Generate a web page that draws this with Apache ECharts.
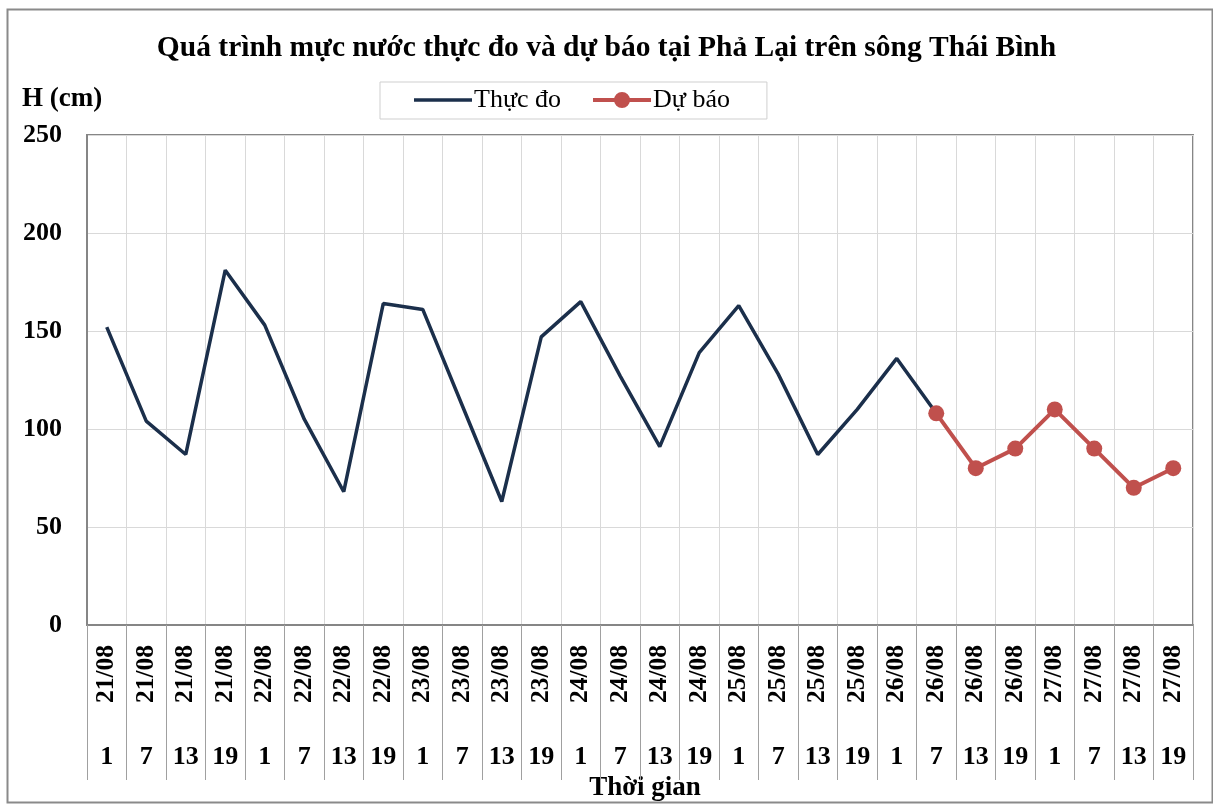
<!DOCTYPE html>
<html>
<head>
<meta charset="utf-8">
<script src="https://cdn.jsdelivr.net/npm/echarts@6/dist/echarts.min.js"></script>
<style>
html,body{margin:0;padding:0;background:#fff;}
#chart{width:1213px;height:804px;}
</style>
</head>
<body>
<div id="chart"></div>
<script>
var dates = ['21/08','21/08','21/08','21/08','22/08','22/08','22/08','22/08','23/08','23/08','23/08','23/08','24/08','24/08','24/08','24/08','25/08','25/08','25/08','25/08','26/08','26/08','26/08','26/08','27/08','27/08','27/08','27/08'];
var hours = ['1','7','13','19','1','7','13','19','1','7','13','19','1','7','13','19','1','7','13','19','1','7','13','19','1','7','13','19'];
var observed = [152,104,87,181,153,105,68,164,161,112,63,147,165,127,91,139,163,128,87,110,136,108,null,null,null,null,null,null];
var forecast = [null,null,null,null,null,null,null,null,null,null,null,null,null,null,null,null,null,null,null,null,null,108,80,90,110,90,70,80];
var yMin = 0, yMax = 250, yInterval = 50;

var font = 'Liberation Serif';
var navy = '#1b2f4b', red = '#c0504d';
var chart = echarts.init(document.getElementById('chart'));
chart.setOption({
  animation:false,
  backgroundColor:'#fff',
  title:{
    text:'Quá trình mực nước thực đo và dự báo tại Phả Lại trên sông Thái Bình',
    left:'center', top:28,
    textStyle:{fontFamily:font, fontWeight:'bold', fontSize:29.5, color:'#000'}
  },
  legend:{
    left:380, top:82,
    padding:[5,37,6,34], itemGap:32,
    borderColor:'#cfcfcf', borderWidth:1,
    itemWidth:58, itemHeight:16, symbolKeepAspect:true,
    textStyle:{fontFamily:font, fontSize:26, color:'#000', padding:[0,0,0,-3]},
    data:[
      {name:'Thực đo', icon:'path://M0,0 L58,0 L58,3.5 L0,3.5 Z', itemStyle:{color:navy}},
      {name:'Dự báo', icon:'path://M0,6 L58,6 L58,10 L0,10 Z M21,8 A8,8 0 1,1 37,8 A8,8 0 1,1 21,8 Z', itemStyle:{color:red}}
    ]
  },
  graphic:[
    {type:'rect', left:5, top:7, shape:{width:1205, height:793}, style:{fill:'none', stroke:'#8a8a8a', lineWidth:2}, silent:true, z:-1},
    {type:'text', left:22, top:86, style:{text:'H (cm)', font:'bold 27px "Liberation Serif"', fill:'#000'}}
  ],
  grid:{left:87, right:20, top:135, bottom:179, containLabel:false, outerBoundsMode:'none',
        show:true, borderColor:'#868686', borderWidth:2, backgroundColor:'transparent'},
  xAxis:[{
    type:'category', data:dates, boundaryGap:true,
    axisLine:{show:true, lineStyle:{color:'#868686', width:2}},
    axisTick:{show:true, interval:0, length:155, lineStyle:{color:'#a0a0a0', width:1}},
    splitLine:{show:true, interval:0, lineStyle:{color:'#d9d9d9', width:1}},
    axisLabel:{interval:0, rotate:90, margin:20, fontFamily:font, fontWeight:'bold', fontSize:25.5, color:'#000'}
  },{
    type:'category', data:hours, position:'bottom', boundaryGap:true,
    axisLine:{show:false}, axisTick:{show:false}, splitLine:{show:false},
    axisLabel:{interval:0, margin:119, fontFamily:font, fontWeight:'bold', fontSize:26, color:'#000'},
    name:'Thời gian', nameLocation:'middle', nameGap:148,
    nameTextStyle:{fontFamily:font, fontWeight:'bold', fontSize:27, color:'#000', padding:[0,0,0,10]}
  }],
  yAxis:{
    type:'value', min:yMin, max:yMax, interval:yInterval,
    axisLine:{show:true, lineStyle:{color:'#868686', width:2}},
    axisTick:{show:false},
    splitLine:{show:true, lineStyle:{color:'#d9d9d9', width:1}},
    axisLabel:{margin:25, fontFamily:font, fontWeight:'bold', fontSize:26, color:'#000'}
  },
  series:[{
    name:'Thực đo', type:'line', data:observed, xAxisIndex:0,
    symbol:'none', lineStyle:{color:navy, width:3.5}, itemStyle:{color:navy}
  },{
    name:'Dự báo', type:'line', data:forecast, xAxisIndex:0,
    symbol:'circle', symbolSize:16, lineStyle:{color:red, width:4}, itemStyle:{color:red}
  }]
});
</script>
</body>
</html>
